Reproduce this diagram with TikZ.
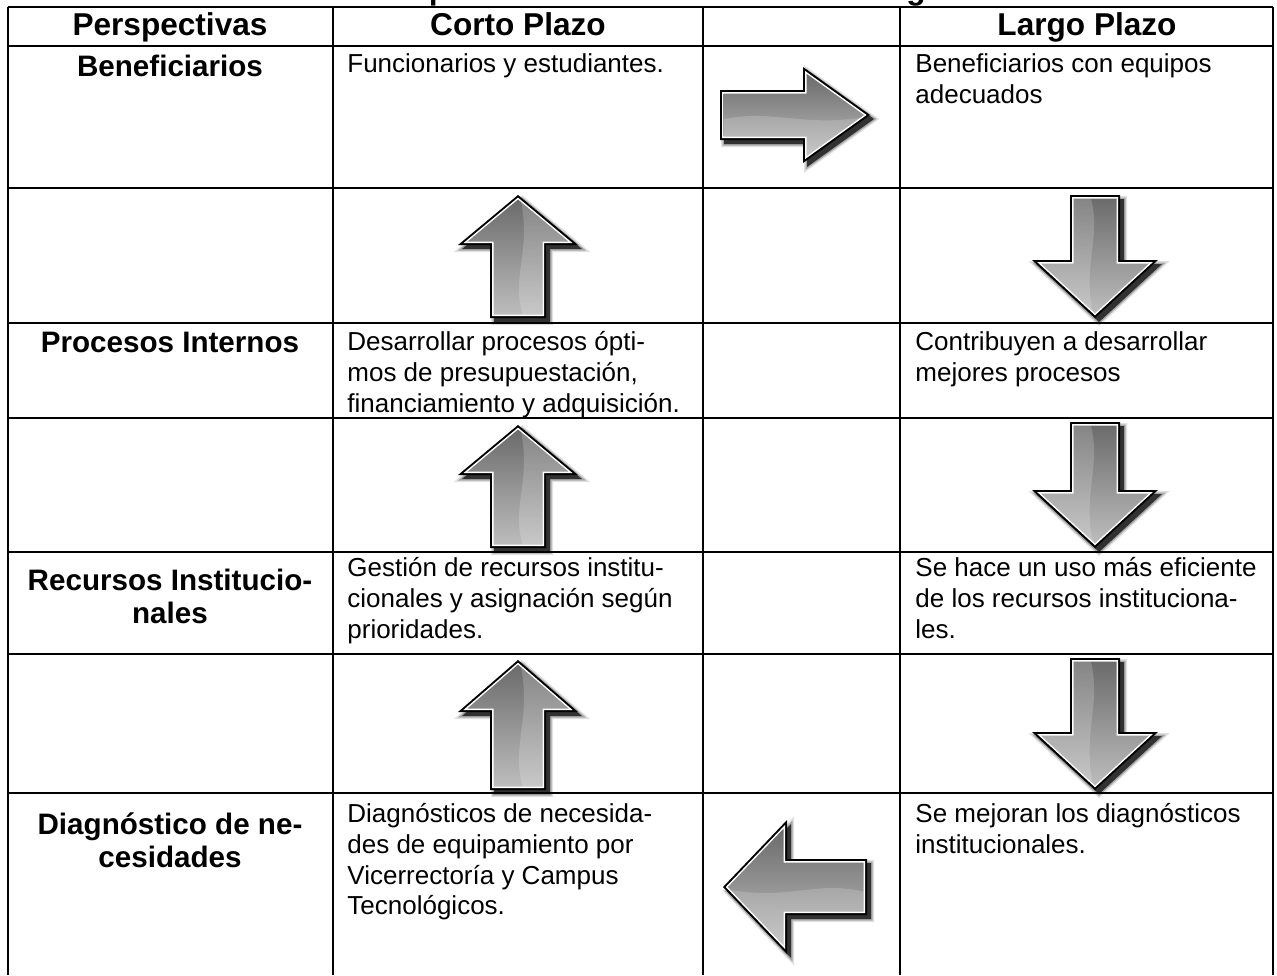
\documentclass[tikz,border=0pt]{standalone}
\usepackage{fontspec}
\setmainfont{Liberation Sans}
\newcommand\mybs{\rule{0pt}{13pt}}
\newcommand\mylbs{\rule{0pt}{15.5pt}}
% inset arrow polygon in local frame: #1 L, #2 shaft half, #3 head half, #4 head length, #5 inset, #6 style
\newcommand\arrfill[6]{%
  \pgfmathsetmacro\aT{#1-(#5)*sqrt((#3)*(#3)+(#4)*(#4))/(#3)}%
  \pgfmathsetmacro\aB{#1-(#4)+(#5)}%
  \pgfmathsetmacro\aC{(#3)*((#4)-(#5))/(#4)-(#5)*sqrt((#3)*(#3)+(#4)*(#4))/(#4)}%
  \pgfmathsetmacro\aS{#2-(#5)}%
  \path[#6] (#5,-\aS) -- (\aB,-\aS) -- (\aB,-\aC) -- (\aT,0) -- (\aB,\aC) -- (\aB,\aS) -- (#5,\aS) -- cycle;}
% #1 x, #2 y of tail centre, #3 rotation, #4 L, #5 s, #6 h, #7 hl, #8 extra
\newcommand\bigarr[8]{%
  \begin{scope}[shift={(#1+4,#2+4)},rotate=#3,#8]
    \arrfill{#4}{#5}{#6}{#7}{-3}{fill=black,opacity=0.12}
    \arrfill{#4}{#5}{#6}{#7}{-1.5}{fill=black,opacity=0.25}
    \arrfill{#4}{#5}{#6}{#7}{0}{fill=black,opacity=0.7}
  \end{scope}
  \begin{scope}[shift={(#1,#2)},rotate=#3,#8]
    \arrfill{#4}{#5}{#6}{#7}{0}{fill=black}
    \arrfill{#4}{#5}{#6}{#7}{2}{fill=white}
    \arrfill{#4}{#5}{#6}{#7}{3.5}{shade,top color=black!58,bottom color=black!26}
    \begin{scope}
      \arrfill{#4}{#5}{#6}{#7}{3.5}{clip}
      \fill[white,opacity=0.18] (0,0.2*#5) .. controls (0.35*#4,-0.3*#5) and (0.55*#4,0.55*#5) .. (#4,0.05*#5) -- (#4,#6) -- (0,#6) -- cycle;
    \end{scope}
  \end{scope}}
\tikzset{
  tabline/.style={line width=1.35pt, black},
  body/.style={font=\fontsize{13}{15.4}\selectfont, align=left, anchor=north west, inner sep=0pt},
  lab/.style={font=\fontsize{14.8}{16.5}\selectfont\bfseries, align=center, anchor=north, inner sep=0pt},
  head/.style={font=\fontsize{15.8}{19}\selectfont\bfseries, anchor=base, inner sep=0pt},
}
\begin{document}
\begin{tikzpicture}[x=0.5pt,y=-0.5pt]
\useasboundingbox (0,0) rectangle (1277,975);
\fill[white] (0,0) rectangle (1277,975);
% title (cut off at the top)
\node[head] (title) at (672,-1) {Esquema de Cuadro de Mando Integral};
% table lines
\foreach \yy in {7,46,188,323,418,552,654,793}
  \draw[tabline] (8,\yy) -- (1273,\yy);
\foreach \xx in {8,333,703,900,1273}
  \draw[tabline] (\xx,7) -- (\xx,975);
% headers
\node[head] (hP) at (170,35) {Perspectivas};
\node[head] (hC) at (518,35) {Corto Plazo};
\node[head] (hL) at (1087,35) {Largo Plazo};
% row labels
\node[lab] (lB) at (170,45) {\mylbs Beneficiarios};
\node[lab] (lP) at (170,321) {\mylbs Procesos Internos};
\node[lab] (lR) at (170,559) {\mylbs Recursos Institucio-\\nales};
\node[lab] (lD) at (170,803) {\mylbs Diagnóstico de ne-\\cesidades};
% body texts
\node[body] (c1) at (347,46) {\mybs Funcionarios y estudiantes.};
\node[body] (d1) at (915,46) {\mybs Beneficiarios con equipos\\adecuados};
\node[body] (c3) at (347,324) {\mybs Desarrollar procesos ópti-\\mos de presupuestación,\\financiamiento y adquisición.};
\node[body] (d3) at (915,324) {\mybs Contribuyen a desarrollar\\mejores procesos};
\node[body] (c5) at (347,550) {\mybs Gestión de recursos institu-\\cionales y asignación según\\prioridades.};
\node[body] (d5) at (915,550) {\mybs Se hace un uso más eficiente\\de los recursos instituciona-\\les.};
\node[body] (c7) at (347,796) {\mybs Diagnósticos de necesida-\\des de equipamiento por\\Vicerrectoría y Campus\\Tecnológicos.};
\node[body] (d7) at (915,796) {\mybs Se mejoran los diagnósticos\\institucionales.};
% arrows
\bigarr{720}{115}{0}{150}{25}{48}{67}{}
\bigarr{518}{318}{90}{123}{28}{60}{50}{}
\bigarr{518}{548}{90}{123}{28}{60}{50}{}
\bigarr{518}{790}{90}{130}{28}{60}{52}{}
\bigarr{1095}{195}{-90}{123}{25}{63}{58}{}
\bigarr{1095}{422}{-90}{126}{25}{63}{58}{}
\bigarr{1095}{658}{-90}{132}{25}{63}{58}{}
\bigarr{867}{887}{0}{144}{28}{67}{64}{xscale=-1}
\end{tikzpicture}
\end{document}
